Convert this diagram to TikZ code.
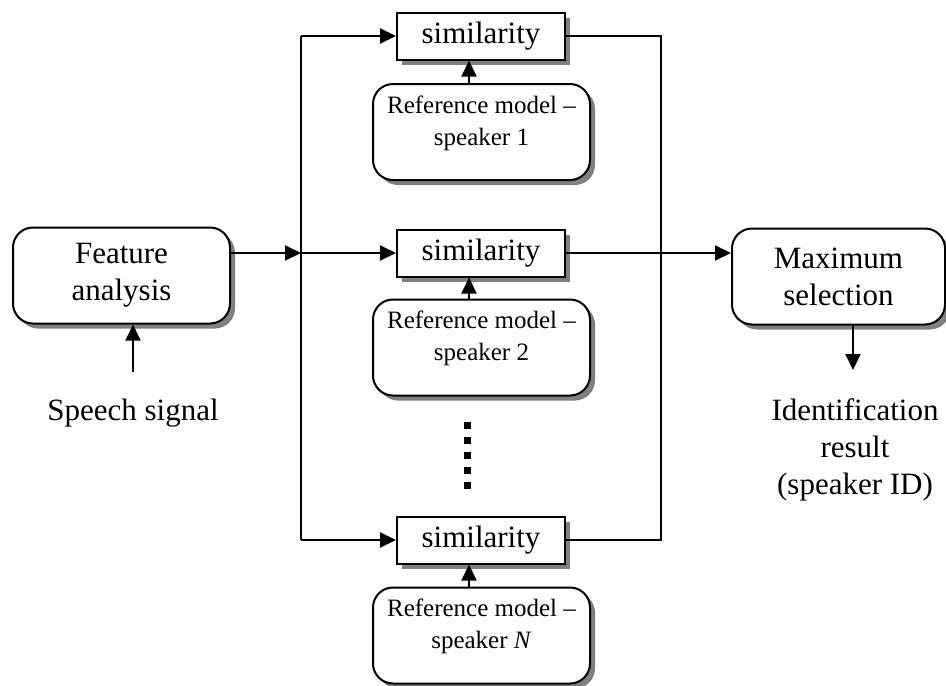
\documentclass[tikz,border=0pt]{standalone}
\usepackage{fontspec}
\setmainfont{Liberation Serif}
\usetikzlibrary{arrows.meta,shadows}
\begin{document}
\begin{tikzpicture}[x=1pt,y=-1pt,
  line width=2pt,
  >={Triangle[length=16pt,width=15pt]},
  boxshadow/.style={drop shadow={shadow xshift=5pt,shadow yshift=-5pt,fill=black!50,opacity=1}},
  bigfont/.style={font=\fontsize{31}{37}\selectfont},
  bigbox/.style={draw,fill=white,rounded corners=20pt,boxshadow,minimum width=217pt,minimum height=96pt,inner sep=0pt,bigfont,align=center},
  simbox/.style={draw,fill=white,boxshadow,minimum width=168pt,minimum height=47pt,inner sep=0pt,bigfont},
  refbox/.style={draw,fill=white,rounded corners=20pt,boxshadow,minimum width=217pt,minimum height=96pt,inner sep=0pt},
  reftext/.style={font=\fontsize{25}{32}\selectfont,align=center,inner sep=0pt},
  plain/.style={bigfont,align=center,inner sep=0pt}
]
\useasboundingbox (0,0) rectangle (946,686);

% processing blocks
\node[bigbox] (feat) at (121.5,275.5) {Feature\\analysis};
\node[bigbox,minimum width=213pt] (maxsel) at (838.5,276.5) {Maximum\\selection};

\node[simbox] (sim1) at (481,36) {similarity};
\node[simbox] (sim2) at (481,253) {similarity};
\node[simbox] (sim3) at (481,540) {similarity};

\node[refbox] (ref1) at (481.5,132) {};
\node[refbox] (ref2) at (481.5,347.5) {};
\node[refbox] (ref3) at (481.5,635.5) {};
\node[reftext] (ref1t) at ([yshift=9pt]ref1.center) {Reference model --\\speaker 1};
\node[reftext] (ref2t) at ([yshift=9pt]ref2.center) {Reference model --\\speaker 2};
\node[reftext] (ref3t) at ([yshift=9pt]ref3.center) {Reference model --\\speaker \textit{N}};

% free texts
\node[plain] (speech) at (133,413) {Speech signal};
\node[plain] (result) at (855,450) {Identification\\result\\(speaker ID)};

% junction points and free ends
\coordinate (jl) at (301,253);
\coordinate (jr) at (661,253);
\coordinate (sp) at (133,372);
\coordinate (out) at (853,370);
\coordinate (dtop) at (467,422);
\coordinate (dbot) at (467,490);

% input side
\draw[->] (sp) -- (sp |- feat.south);
\draw[->] (feat.east |- jl) -- (jl);
\draw (jl |- sim1.west) -- (jl |- sim3.west);
\draw[->] (jl |- sim1.west) -- (sim1.west);
\draw[->] (jl) -- (sim2.west);
\draw[->] (jl |- sim3.west) -- (sim3.west);

% reference models feed the similarity blocks
\draw[->] ([xshift=-12.5pt]ref1.north) -- ([xshift=-12pt]sim1.south);
\draw[->] ([xshift=-12.5pt]ref2.north) -- ([xshift=-12pt]sim2.south);
\draw[->] ([xshift=-12.5pt]ref3.north) -- ([xshift=-12pt]sim3.south);

% output side
\draw (sim1.east) -- (jr |- sim1.east) -- (jr |- sim3.east) -- (sim3.east);
\draw[->] (sim2.east) -- (maxsel.west |- sim2.east);
\draw[->] (out |- maxsel.south) -- (out);

% ellipsis between speaker 2 and speaker N
\draw[line width=7pt,dash pattern=on 7pt off 8pt] (dtop) -- (dbot);
\end{tikzpicture}
\end{document}
